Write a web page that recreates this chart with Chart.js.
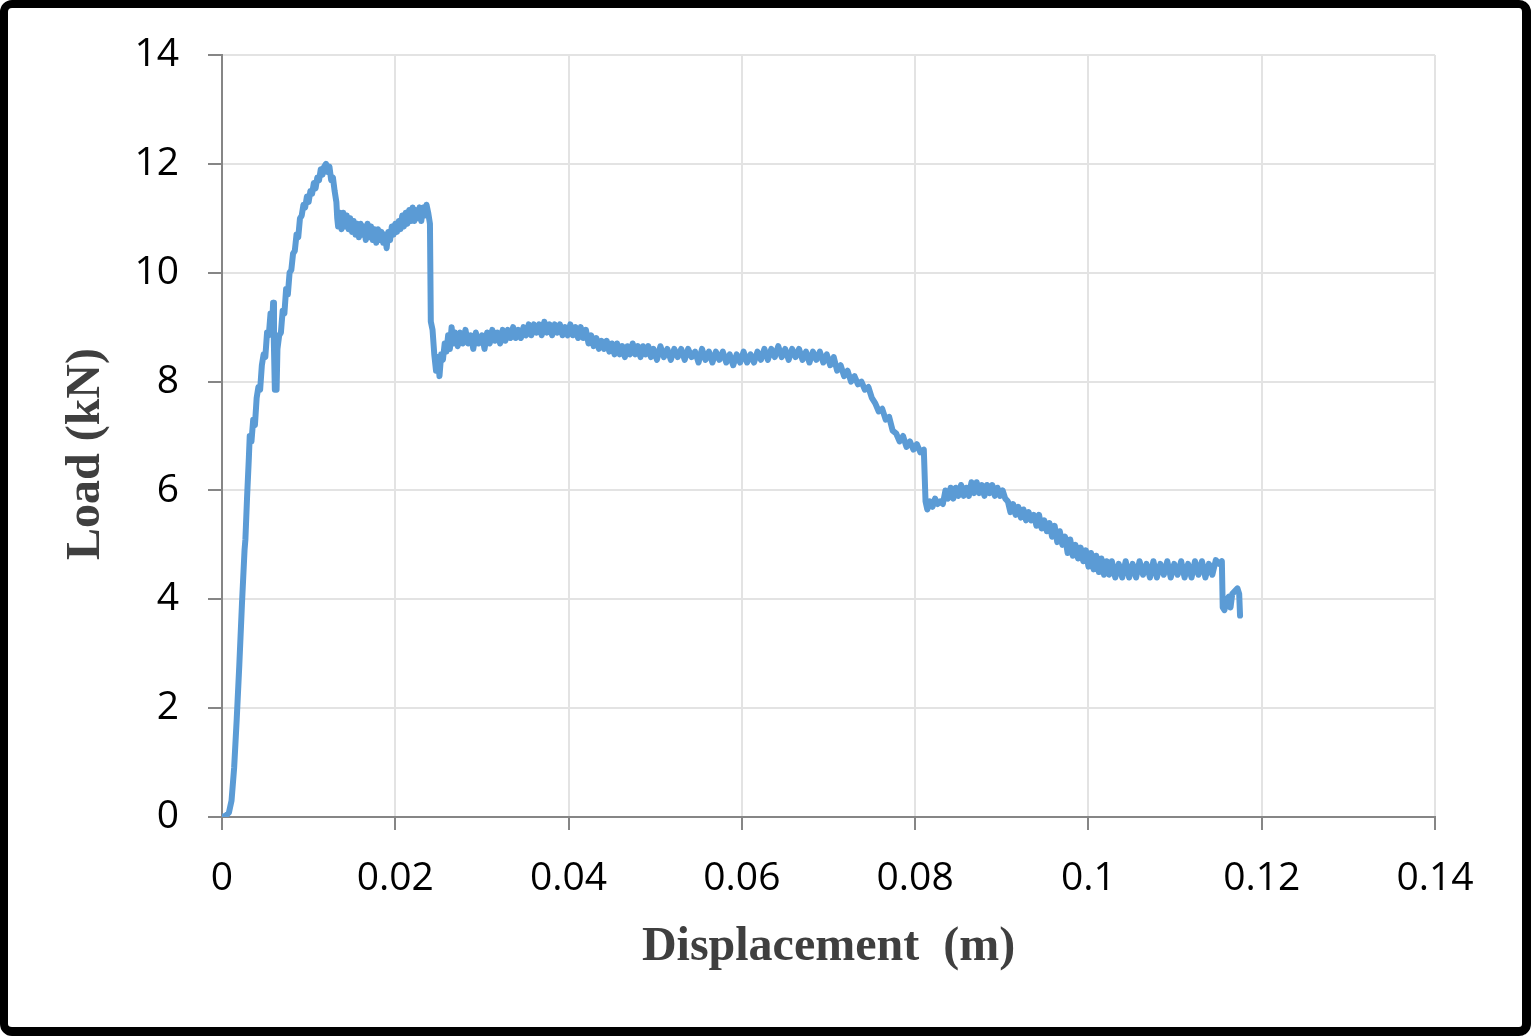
<!DOCTYPE html>
<html>
<head>
<meta charset="utf-8">
<title>Load vs Displacement</title>
<script src="https://cdn.jsdelivr.net/npm/chart.js@4.4.0/dist/chart.umd.min.js"></script>
<style>
  html, body { margin: 0; padding: 0; background: #fff; }
  #wrap { position: relative; width: 1531px; height: 1036px; }
  #frame {
    position: absolute; left: 0; top: 0; width: 1531px; height: 1036px;
    box-sizing: border-box; border: solid #000; border-width: 8px 9px 9px 8px;
    border-radius: 12px; pointer-events: none;
  }
</style>
</head>
<body>
<div id="wrap">
  <canvas id="loadChart" width="1531" height="1036"></canvas>
  <div id="frame"></div>
</div>
<script>
// Tick labels
const xTickLabels = ['0', '0.02', '0.04', '0.06', '0.08', '0.1', '0.12', '0.14'];
const yTickLabels = ['0', '2', '4', '6', '8', '10', '12', '14'];

// Displacement (m)
const displacement = [
  0, 0.0004, 0.0008, 0.0011, 0.0014, 0.0017, 0.002, 0.0023, 0.0026, 0.0027,
  0.0029, 0.0031, 0.0032, 0.0034, 0.0036, 0.0038, 0.004, 0.0042, 0.0044, 0.0046,
  0.0048, 0.005, 0.0052, 0.0054, 0.0056, 0.0058, 0.0059, 0.006, 0.0061, 0.0062,
  0.0063, 0.0064, 0.0066, 0.0068, 0.007, 0.0072, 0.0074, 0.0076, 0.0078, 0.008,
  0.0082, 0.0084, 0.0086, 0.0088, 0.009, 0.0092, 0.0094, 0.0096, 0.0098, 0.01,
  0.0102, 0.0104, 0.0106, 0.0108, 0.011, 0.0112, 0.0114, 0.0116, 0.0118, 0.012,
  0.0122, 0.0124, 0.0126, 0.0128, 0.013, 0.0132, 0.0133, 0.0134, 0.0136, 0.0138,
  0.014, 0.0142, 0.0144, 0.0146, 0.0148, 0.015, 0.0152, 0.0154, 0.0156, 0.0158,
  0.016, 0.0162, 0.0164, 0.0166, 0.0168, 0.017, 0.0172, 0.0174, 0.0176, 0.0178,
  0.018, 0.0182, 0.0184, 0.0186, 0.0188, 0.019, 0.0192, 0.0194, 0.0196, 0.0198,
  0.02, 0.0202, 0.0204, 0.0206, 0.0208, 0.021, 0.0212, 0.0214, 0.0216, 0.0218,
  0.022, 0.0222, 0.0224, 0.0226, 0.0228, 0.023, 0.0232, 0.0234, 0.0236, 0.0238,
  0.024, 0.0241, 0.0243, 0.0245, 0.0247, 0.0249, 0.0251, 0.0253, 0.0255, 0.0257,
  0.0259, 0.0261, 0.0263, 0.0265, 0.0267, 0.0269, 0.0272, 0.0275, 0.0278, 0.0281,
  0.0284, 0.0287, 0.029, 0.0293, 0.0296, 0.03, 0.0303, 0.0306, 0.0309, 0.0312,
  0.0315, 0.0318, 0.0321, 0.0324, 0.0327, 0.033, 0.0333, 0.0336, 0.0339, 0.0342,
  0.0345, 0.0348, 0.0351, 0.0354, 0.0357, 0.036, 0.0363, 0.0366, 0.0369, 0.0372,
  0.0375, 0.0378, 0.0381, 0.0384, 0.0387, 0.039, 0.0393, 0.0396, 0.0399, 0.0402,
  0.0405, 0.0408, 0.0411, 0.0414, 0.0417, 0.042, 0.0423, 0.0426, 0.0429, 0.0432,
  0.0435, 0.0438, 0.0441, 0.0444, 0.0447, 0.045, 0.0453, 0.0456, 0.0459, 0.0462,
  0.0465, 0.0468, 0.0471, 0.0474, 0.0477, 0.048, 0.0483, 0.0486, 0.0489, 0.0492,
  0.0495, 0.0498, 0.0502, 0.0506, 0.051, 0.0514, 0.0518, 0.0522, 0.0526, 0.053,
  0.0534, 0.0538, 0.0542, 0.0546, 0.055, 0.0554, 0.0558, 0.0562, 0.0566, 0.057,
  0.0574, 0.0578, 0.0582, 0.0586, 0.059, 0.0594, 0.0598, 0.0602, 0.0606, 0.061,
  0.0614, 0.0618, 0.0622, 0.0626, 0.063, 0.0634, 0.0638, 0.0642, 0.0646, 0.065,
  0.0654, 0.0658, 0.0662, 0.0666, 0.067, 0.0674, 0.0678, 0.0682, 0.0686, 0.069,
  0.0694, 0.0698, 0.0702, 0.0706, 0.071, 0.0714, 0.0718, 0.0722, 0.0726, 0.073,
  0.0734, 0.0738, 0.0742, 0.0746, 0.075, 0.0754, 0.0758, 0.0762, 0.0766, 0.077,
  0.0774, 0.0778, 0.0782, 0.0786, 0.079, 0.0794, 0.0798, 0.0802, 0.0806, 0.081,
  0.0812, 0.0814, 0.0817, 0.082, 0.0823, 0.0826, 0.0829, 0.0832, 0.0835, 0.0838,
  0.0841, 0.0844, 0.0847, 0.085, 0.0853, 0.0856, 0.0859, 0.0862, 0.0865, 0.0868,
  0.0871, 0.0874, 0.0877, 0.088, 0.0883, 0.0886, 0.0889, 0.0892, 0.0895, 0.0898,
  0.0901, 0.0904, 0.0907, 0.091, 0.0913, 0.0916, 0.0919, 0.0922, 0.0925, 0.0928,
  0.0931, 0.0934, 0.0937, 0.094, 0.0943, 0.0946, 0.0949, 0.0952, 0.0955, 0.0958,
  0.0961, 0.0964, 0.0967, 0.097, 0.0973, 0.0976, 0.0979, 0.0982, 0.0985, 0.0988,
  0.0991, 0.0994, 0.0997, 0.1, 0.1003, 0.1006, 0.1009, 0.1012, 0.1015, 0.1018,
  0.1021, 0.1024, 0.1027, 0.1031, 0.1035, 0.1039, 0.1043, 0.1047, 0.1051, 0.1055,
  0.1059, 0.1063, 0.1067, 0.1071, 0.1075, 0.1079, 0.1083, 0.1087, 0.1091, 0.1095,
  0.1099, 0.1103, 0.1107, 0.1111, 0.1115, 0.1119, 0.1123, 0.1127, 0.1131, 0.1135,
  0.1139, 0.1143, 0.1147, 0.1151, 0.1154, 0.1155, 0.1157, 0.116, 0.1162, 0.1164,
  0.1166, 0.1169, 0.1172, 0.1174, 0.1175
];

// Load (kN), same order as displacement
const load = [
  0, 0.02, 0.08, 0.3, 0.9, 1.8, 2.8, 3.9, 4.9, 5.1,
  5.9, 6.6, 7.0, 6.9, 7.3, 7.2, 7.7, 7.9, 7.85, 8.3,
  8.5, 8.45, 8.9, 8.85, 9.25, 9.1, 9.45, 8.6, 7.85, 8.1,
  7.85, 8.6, 8.85, 8.9, 9.3, 9.25, 9.7, 9.6, 10.0, 10.05,
  10.35, 10.4, 10.7, 10.65, 11.0, 11.05, 11.25, 11.2, 11.4, 11.3,
  11.5, 11.45, 11.65, 11.55, 11.75, 11.7, 11.9, 11.8, 11.95, 12.0,
  11.85, 11.95, 11.7, 11.75, 11.5, 11.3, 11.0, 10.85, 11.1, 10.8,
  11.1, 10.85, 11.05, 10.8, 11.0, 10.75, 10.95, 10.7, 10.9, 10.65,
  10.9, 10.7, 10.85, 10.6, 10.9, 10.65, 10.85, 10.6, 10.8, 10.55,
  10.8, 10.6, 10.75, 10.55, 10.7, 10.45, 10.75, 10.6, 10.85, 10.7,
  10.9, 10.75, 10.95, 10.8, 11.05, 10.85, 11.1, 10.9, 11.15, 10.95,
  11.2, 10.95, 11.15, 11.0, 11.2, 10.95, 11.2, 11.05, 11.25, 11.1,
  10.9, 9.1, 8.95, 8.5, 8.2, 8.45, 8.1, 8.5, 8.4, 8.7,
  8.55, 8.85, 8.6, 9.0, 8.7, 8.9, 8.65, 8.9, 8.7, 8.95,
  8.7, 8.85, 8.6, 8.9, 8.7, 8.85, 8.6, 8.9, 8.7, 8.95,
  8.75, 8.9, 8.7, 8.95, 8.75, 8.95, 8.8, 9.0, 8.8, 8.95,
  8.8, 9.0, 8.85, 9.05, 8.85, 9.05, 8.9, 9.05, 8.85, 9.1,
  8.9, 9.05, 8.85, 9.05, 8.9, 9.05, 8.85, 9.0, 8.85, 9.05,
  8.85, 9.0, 8.8, 9.0, 8.8, 8.95, 8.7, 8.85, 8.65, 8.8,
  8.6, 8.75, 8.6, 8.75, 8.55, 8.7, 8.5, 8.7, 8.5, 8.65,
  8.45, 8.65, 8.5, 8.7, 8.5, 8.65, 8.45, 8.65, 8.5, 8.65,
  8.45, 8.6, 8.4, 8.65, 8.45, 8.6, 8.4, 8.6, 8.45, 8.6,
  8.4, 8.6, 8.45, 8.55, 8.35, 8.6, 8.4, 8.55, 8.35, 8.55,
  8.4, 8.55, 8.35, 8.5, 8.3, 8.5, 8.35, 8.55, 8.35, 8.5,
  8.35, 8.55, 8.4, 8.6, 8.4, 8.6, 8.45, 8.65, 8.45, 8.6,
  8.4, 8.6, 8.45, 8.6, 8.4, 8.55, 8.35, 8.55, 8.4, 8.55,
  8.35, 8.5, 8.3, 8.45, 8.2, 8.3, 8.1, 8.2, 8.0, 8.1,
  7.95, 8.0, 7.85, 7.9, 7.7, 7.6, 7.45, 7.5, 7.3, 7.35,
  7.1, 7.05, 6.9, 7.0, 6.8, 6.9, 6.75, 6.85, 6.7, 6.75,
  5.8, 5.65, 5.8, 5.7, 5.85, 5.75, 5.8, 5.75, 6.0, 5.85,
  6.05, 5.85, 6.05, 5.9, 6.1, 5.9, 6.05, 5.9, 6.15, 5.95,
  6.15, 5.95, 6.1, 5.9, 6.1, 5.95, 6.1, 5.9, 6.05, 5.9,
  6.0, 5.85, 5.8, 5.6, 5.75, 5.55, 5.7, 5.5, 5.65, 5.45,
  5.6, 5.45, 5.55, 5.35, 5.55, 5.3, 5.45, 5.25, 5.4, 5.15,
  5.35, 5.05, 5.25, 5.0, 5.15, 4.85, 5.1, 4.8, 5.0, 4.75,
  4.95, 4.7, 4.9, 4.6, 4.85, 4.55, 4.8, 4.5, 4.75, 4.45,
  4.7, 4.45, 4.7, 4.4, 4.65, 4.4, 4.7, 4.4, 4.65, 4.4,
  4.7, 4.45, 4.65, 4.4, 4.7, 4.4, 4.65, 4.45, 4.7, 4.4,
  4.65, 4.45, 4.7, 4.4, 4.65, 4.4, 4.7, 4.45, 4.7, 4.4,
  4.65, 4.45, 4.72, 4.65, 4.7, 3.85, 3.8, 4.0, 4.05, 3.85,
  4.1, 4.15, 4.2, 4.1, 3.7
];

const points = displacement.map((d, i) => ({ x: d, y: load[i] }));

const axisGray = '#868686';
const gridGray = '#e3e3e3';
const tickFont = { family: '"Open Sans", sans-serif', size: 39 };
const titleFont = { family: '"Liberation Serif", "Times New Roman", serif', size: 48, weight: 'bold' };

new Chart(document.getElementById('loadChart'), {
  type: 'line',
  data: {
    datasets: [{
      label: 'Load',
      data: points,
      borderColor: '#5b9bd5',
      borderWidth: 6,
      borderJoinStyle: 'round',
      borderCapStyle: 'round',
      pointRadius: 0,
      tension: 0,
      fill: false,
    }],
  },
  options: {
    responsive: false,
    animation: false,
    layout: { padding: { top: 55, right: 96, left: 0, bottom: 0 } },
    plugins: {
      legend: { display: false },
      tooltip: { enabled: false },
    },
    scales: {
      x: {
        type: 'linear',
        min: 0,
        max: 0.14,
        afterFit: scale => { scale.height = 219; },
        afterBuildTicks: scale => {
          scale.ticks = xTickLabels.map(t => ({ value: parseFloat(t) }));
        },
        grid: { color: gridGray, lineWidth: 2, tickColor: axisGray, tickLength: 13, tickWidth: 2 },
        border: { color: axisGray, width: 2 },
        ticks: {
          color: '#000',
          font: tickFont,
          padding: 25,
          maxRotation: 0,
          callback: (v, i) => xTickLabels[i],
        },
        title: {
          display: true,
          text: 'Displacement  (m)',
          color: '#3f3f3f',
          font: titleFont,
          padding: { top: 0, bottom: 60 },
        },
      },
      y: {
        type: 'linear',
        min: 0,
        max: 14,
        afterFit: scale => { scale.width = 222; },
        afterBuildTicks: scale => {
          scale.ticks = yTickLabels.map(t => ({ value: parseFloat(t) }));
        },
        grid: { color: gridGray, lineWidth: 2, tickColor: axisGray, tickLength: 14, tickWidth: 2 },
        border: { color: axisGray, width: 2 },
        ticks: {
          color: '#000',
          font: tickFont,
          padding: 29,
          callback: (v, i) => yTickLabels[i],
        },
        title: {
          display: true,
          text: 'Load (kN)   ',
          color: '#3f3f3f',
          font: titleFont,
          padding: { top: 58, bottom: 0 },
        },
      },
    },
  },
});
</script>
</body>
</html>
